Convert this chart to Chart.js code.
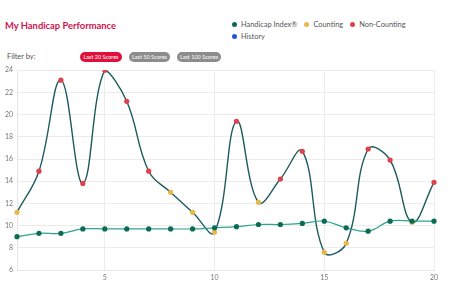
<!DOCTYPE html>
<html>
<head>
<meta charset="utf-8">
<script src="https://cdn.jsdelivr.net/npm/chart.js@4"></script>
<style>
  body { margin: 0; width: 457px; height: 300px; background: #fff; font-family: Lato, "Open Sans", sans-serif; position: relative; overflow: hidden; }
  .title { position: absolute; left: 5px; top: 20px; font-size: 9.4px; font-weight: 700; color: #d0124f; }
  .legend { position: absolute; left: 232px; top: 19px; width: 200px; font-size: 7.4px; color: #555; line-height: 12px; }
  .legend span { display: inline-block; margin-right: 7px; white-space: nowrap; }
  .legend i { display: inline-block; width: 5px; height: 5px; border-radius: 50%; margin-right: 4px; vertical-align: 0px; }
  .filter { position: absolute; left: 7px; top: 52px; font-size: 7.4px; color: #555; }
  .btn { position: absolute; top: 52px; height: 10px; line-height: 10px; border-radius: 5px; font-size: 5.5px; color: #fff; text-align: center; background: #8c8c8c; }
  #wrap { position: absolute; left: 0; top: 62px; width: 457px; height: 238px; }
</style>
</head>
<body>
<div class="title">My Handicap Performance</div>
<div class="legend" id="legend"></div>
<div class="filter">Filter by:</div>
<div class="btn" style="left:80px;width:42px;background:#e0103c">Last 20 Scores</div>
<div class="btn" style="left:129px;width:41px">Last 50 Scores</div>
<div class="btn" style="left:177px;width:44px">Last 100 Scores</div>
<div id="wrap"><canvas id="chart"></canvas></div>
<script>
const rounds = [1,2,3,4,5,6,7,8,9,10,11,12,13,14,15,16,17,18,19,20];
const handicapIndex = [9.0,9.3,9.3,9.7,9.7,9.7,9.7,9.7,9.7,9.8,9.9,10.1,10.1,10.2,10.4,9.8,9.5,10.4,10.4,10.4];
const scores = [11.2,14.9,23.1,13.8,24.0,21.2,14.9,13.0,11.2,9.4,19.4,12.1,14.2,16.7,7.6,8.4,16.9,15.9,10.3,13.9];
// C = counting, N = non-counting
const scoreType = ['C','N','N','N','N','N','N','C','C','C','N','C','N','N','C','C','N','N','C','N'];
const yTicks = [6,8,10,12,14,16,18,20,22,24];

const colors = { index: '#0b6b55', counting: '#e8b84a', nonCounting: '#e0404a', history: '#2457d6' };
const legendItems = [
  ['Handicap Index®', colors.index],
  ['Counting', colors.counting],
  ['Non-Counting', colors.nonCounting],
  ['History', colors.history]
];
document.getElementById('legend').innerHTML = legendItems.map(l =>
  '<span><i style="background:' + l[1] + '"></i>' + l[0] + '</span>').join('');

const ctx = document.getElementById('chart');
new Chart(ctx, {
  type: 'line',
  data: {
    labels: rounds,
    datasets: [{
      label: 'Handicap Index®',
      data: handicapIndex,
      borderColor: '#2ea58c',
      borderWidth: 1.2,
      pointBackgroundColor: colors.index,
      pointBorderWidth: 0,
      pointRadius: 2.6,
      tension: 0.4
    }, {
      label: 'Scores',
      data: scores,
      borderColor: '#1d5a5f',
      borderWidth: 1.4,
      pointBackgroundColor: scoreType.map(t => t === 'C' ? colors.counting : colors.nonCounting),
      pointBorderWidth: 0,
      pointRadius: 2.6,
      tension: 0.4
    }]
  },
  options: {
    responsive: true,
    maintainAspectRatio: false,
    animation: false,
    layout: { padding: { top: 8, right: 23 } },
    scales: {
      x: {
        afterFit: s => { s.height = 30; },
        grid: {
          color: c => (c.index === 0 || (c.index + 1) % 5 === 0) ? '#ececec' : 'transparent',
          drawTicks: false
        },
        border: { color: '#e6e6e6' },
        ticks: {
          autoSkip: false,
          maxRotation: 0,
          padding: 4,
          color: '#777',
          font: { size: 7, family: 'Lato' },
          callback: (v, i) => (i + 1) % 5 === 0 ? rounds[i] : ''
        }
      },
      y: {
        min: 6,
        max: 24,
        afterFit: s => { s.width = 17; },
        afterBuildTicks: s => { s.ticks = yTicks.map(v => ({ value: v })); },
        grid: { color: '#ececec', drawTicks: false },
        border: { color: '#e6e6e6' },
        ticks: { padding: 4, color: '#777', font: { size: 7, family: 'Lato' } }
      }
    },
    plugins: {
      legend: { display: false },
      tooltip: { enabled: false }
    }
  }
});
</script>
</body>
</html>
